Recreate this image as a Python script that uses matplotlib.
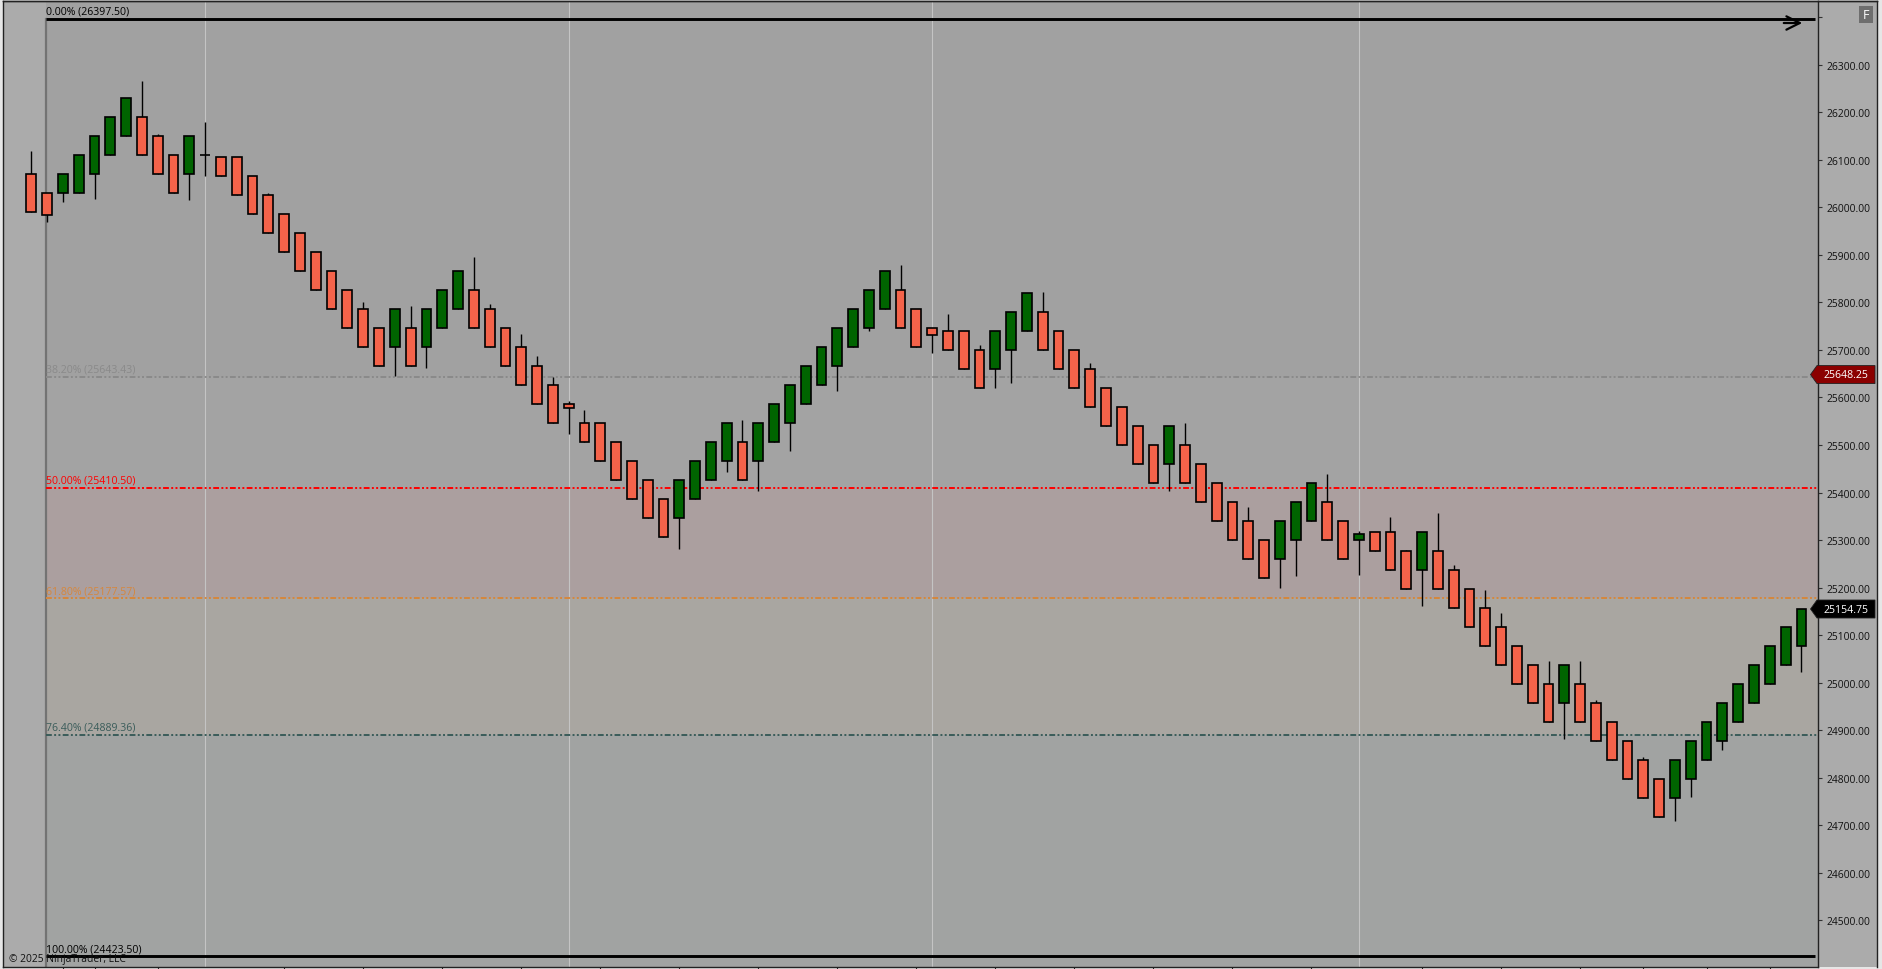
import matplotlib
matplotlib.use('Agg')
import matplotlib.pyplot as plt
from matplotlib.patches import Polygon, Rectangle
from matplotlib.lines import Line2D
import matplotlib.transforms as mtransforms

plt.rcParams['font.family'] = ['Open Sans', 'DejaVu Sans']

# ---------------- data ----------------
opens = [26070, 26030, 26030, 26030, 26070, 26110, 26150, 26190, 26150, 26110,
         26070, 26110, 26106, 26106, 26066, 26026, 25986, 25946, 25906, 25866,
         25826, 25786, 25746, 25706, 25746, 25706, 25746, 25786, 25826, 25786,
         25746, 25706, 25666, 25626, 25586, 25546, 25546, 25506, 25466, 25426,
         25386, 25346, 25386, 25426, 25466, 25506, 25466, 25506, 25546, 25586,
         25626, 25666, 25706, 25746, 25786, 25826, 25786, 25746, 25740, 25740,
         25700, 25660, 25700, 25740, 25780, 25740, 25700, 25660, 25620, 25580,
         25540, 25500, 25460, 25500, 25460, 25420, 25380, 25340, 25300, 25260,
         25300, 25340, 25380, 25340, 25300, 25316, 25316, 25276, 25236, 25276,
         25236, 25196, 25156, 25116, 25076, 25036, 24996, 24956, 24996, 24956,
         24916, 24876, 24836, 24796, 24756, 24796, 24836, 24876, 24916, 24956,
         24996, 25036, 25076]
closes = [25990, 25984, 26070, 26110, 26150, 26190, 26230, 26110, 26070, 26030,
          26150, 26110, 26066, 26026, 25986, 25946, 25906, 25866, 25826, 25786,
          25746, 25706, 25666, 25786, 25666, 25786, 25826, 25866, 25746, 25706,
          25666, 25626, 25586, 25546, 25578, 25506, 25466, 25426, 25386, 25346,
          25306, 25426, 25466, 25506, 25546, 25426, 25546, 25586, 25626, 25666,
          25706, 25746, 25786, 25826, 25866, 25746, 25706, 25731, 25700, 25660,
          25620, 25740, 25780, 25820, 25700, 25660, 25620, 25580, 25540, 25500,
          25460, 25420, 25540, 25420, 25380, 25340, 25300, 25260, 25220, 25340,
          25380, 25420, 25300, 25260, 25312, 25276, 25236, 25196, 25316, 25196,
          25156, 25116, 25076, 25036, 24996, 24956, 24916, 25036, 24916, 24876,
          24836, 24796, 24756, 24716, 24836, 24876, 24916, 24956, 24996, 25036,
          25076, 25116, 25154.75]
highs = [26119, 26030, 26070, 26110, 26150, 26190, 26230, 26266, 26155, 26110,
         26150, 26179, 26106, 26106, 26066, 26031, 25986, 25946, 25906, 25866,
         25826, 25800, 25746, 25786, 25792, 25786, 25826, 25866, 25895, 25797,
         25746, 25734, 25687, 25643, 25593, 25574, 25546, 25506, 25466, 25426,
         25386, 25426, 25466, 25506, 25546, 25553, 25546, 25586, 25626, 25666,
         25706, 25746, 25786, 25826, 25866, 25879, 25786, 25746, 25776, 25740,
         25710, 25740, 25780, 25820, 25822, 25740, 25700, 25673, 25620, 25580,
         25540, 25500, 25540, 25546, 25460, 25420, 25380, 25370, 25300, 25340,
         25380, 25420, 25439, 25340, 25318, 25316, 25348, 25280, 25316, 25356,
         25247, 25196, 25195, 25146, 25076, 25036, 25046, 25036, 25046, 24963,
         24916, 24876, 24843, 24796, 24836, 24876, 24916, 24956, 24996, 25036,
         25076, 25116, 25154.75]
lows = [25990, 25969, 26012, 26030, 26018, 26110, 26150, 26110, 26070, 26030,
        26016, 26067, 26066, 26026, 25986, 25946, 25906, 25866, 25826, 25786,
        25746, 25706, 25666, 25646, 25666, 25663, 25746, 25786, 25746, 25706,
        25666, 25626, 25586, 25546, 25523, 25506, 25466, 25426, 25386, 25346,
        25306, 25282, 25386, 25426, 25444, 25426, 25404, 25506, 25488, 25586,
        25626, 25614, 25706, 25741, 25786, 25746, 25706, 25694, 25700, 25660,
        25620, 25620, 25630, 25740, 25700, 25660, 25620, 25580, 25540, 25500,
        25460, 25420, 25404, 25420, 25380, 25340, 25300, 25260, 25220, 25198,
        25225, 25340, 25300, 25260, 25227, 25276, 25236, 25196, 25162, 25196,
        25156, 25116, 25076, 25036, 24996, 24956, 24916, 24882, 24916, 24876,
        24836, 24796, 24756, 24716, 24709, 24758, 24836, 24857, 24916, 24956,
        24996, 25036, 25023]

fib_start_price = 26397.50
fib_end_price = 24423.50
fib_ratios = [0.0, 0.382, 0.5, 0.618, 0.764, 1.0]
fib_anchor_bar = 1
session_start_bars = [11, 34, 57, 84]
price_ticks = list(range(24500, 26301, 100))
time_tick_bars = [2, 4, 8, 16, 21, 26, 31, 36, 41, 46, 51, 56, 61, 66, 71, 76, 81, 88, 93, 98, 102, 106, 110]
last_price = 25154.75
marker_price = 25648.25

# ---------------- styling ----------------
UP = '#006400'
DOWN = '#f4634a'
fib_line_colors = ['#000000', '#8a8a8a', '#ff0000', '#d6873c', '#3a5c5a', '#000000']
zone_colors = ['#a1a1a1', '#a3a3a3', '#ab9f9f', '#a9a6a1', '#a1a3a2']

W, H = 1883, 970
fig = plt.figure(figsize=(W / 100, H / 100), dpi=100, facecolor='#e6e6e6')
ax = fig.add_axes([3 / W, 2 / H, (1818 - 3) / W, (968 - 2) / H])
ax.set_facecolor('#ababab')

xmin, xmax = -1.79, 113.05
ymin, ymax = 24401.1, 26434.7
ax.set_xlim(xmin, xmax)
ax.set_ylim(ymin, ymax)

# right price-axis panel
fig.add_artist(Rectangle((1818 / W, 2 / H), (1877 - 1818) / W, 966 / H, transform=fig.transFigure,
                         facecolor='#ababab', edgecolor='none', zorder=0))
fig.add_artist(Line2D([1877 / W, 1877 / W], [2 / H, 968 / H], transform=fig.transFigure, color='#222222', lw=1))
fig.add_artist(Line2D([1818 / W, 1877 / W], [968 / H, 968 / H], transform=fig.transFigure, color='#222222', lw=1))
fig.add_artist(Line2D([3 / W, 1877 / W], [(H - 2) / H, (H - 2) / H], transform=fig.transFigure, color='#222222', lw=1))

# fibonacci zones
xa = fib_anchor_bar - 0.06
rng = fib_start_price - fib_end_price
levels = [fib_start_price - r * rng for r in fib_ratios]
ax.fill_between([xa, xmax], levels[0], ymax, color=zone_colors[0], lw=0, zorder=0.5)
for i in range(len(levels) - 1):
    ax.fill_between([xa, xmax], levels[i + 1], levels[i], color=zone_colors[i], lw=0, zorder=0.5)
ax.fill_between([xa, xmax], ymin, levels[-1], color=zone_colors[-1], lw=0, zorder=0.5)

# session separators
for b in session_start_bars:
    ax.axvline(b, color='#c4c4c4', lw=0.8, zorder=0.8)

# fib anchor vertical line
ax.plot([xa, xa], [ymin, levels[0]], color='#737373', lw=1.6, zorder=1)

# fib level lines and labels
for r, lvl, col in zip(fib_ratios, levels, fib_line_colors):
    if r in (0.0, 1.0):
        ax.plot([xa, xmax - 0.2], [lvl, lvl], color=col, lw=2.1, zorder=1.2, solid_capstyle='butt')
    else:
        ax.plot([xa, xmax], [lvl, lvl], color=col, lw=1.4, zorder=1.2, dashes=(3, 1.2, 1, 1.2, 1, 1.2))
    ax.annotate(f"{r * 100:.2f}% ({lvl:.2f})", xy=(xa, lvl), xytext=(0, 1.5), textcoords='offset points',
                ha='left', va='bottom', fontsize=7.6, color=col, zorder=3)

# candles
xs = list(range(len(opens)))
ax.vlines(xs, lows, highs, color='black', lw=1.0, zorder=2)
body_bottom = [min(o, c) for o, c in zip(opens, closes)]
body_height = [abs(c - o) for o, c in zip(opens, closes)]
body_colors = [UP if c > o else DOWN for o, c in zip(opens, closes)]
ax.bar(xs, body_height, bottom=body_bottom, width=0.62, color=body_colors,
       edgecolor='black', linewidth=1.2, zorder=2.5)

# axes / ticks
for s in ax.spines.values():
    s.set_color('#222222')
    s.set_linewidth(1)
ax.yaxis.tick_right()
ax.set_yticks(price_ticks)
ax.set_yticklabels([f"{p:.2f}" for p in price_ticks])
ax.set_yticks([26400], minor=True)
ax.tick_params(axis='y', which='both', direction='out', length=3, width=0.8, pad=3.2,
               labelsize=7.4, colors='#333333', labelcolor='#111111')
ax.set_xticks(time_tick_bars)
ax.set_xticklabels([])
ax.tick_params(axis='x', direction='out', length=2, width=0.8, colors='#222222')

# price markers on the right axis
trans = mtransforms.blended_transform_factory(fig.transFigure, ax.transData)
hh = 9 / 0.475
for price, col in [(marker_price, '#8b0000'), (last_price, '#000000')]:
    verts = [(1810.5 / W, price), (1817 / W, price + hh), (1875 / W, price + hh),
             (1875 / W, price - hh), (1817 / W, price - hh)]
    ax.add_patch(Polygon(verts, closed=True, transform=trans, facecolor=col,
                         edgecolor='#222222', lw=0.6, clip_on=False, zorder=5))
    ax.text(1846 / W, price, f"{price:.2f}", transform=trans, ha='center', va='center',
            fontsize=7.6, color='white', zorder=6, clip_on=False)

# "F" box
fig.add_artist(Rectangle((1859 / W, (H - 24) / H), 14 / W, 17 / H, transform=fig.transFigure,
                         facecolor='#6e6e6e', edgecolor='none', zorder=5))
fig.text(1866 / W, (H - 15.5) / H, 'F', color='white', fontsize=9, ha='center', va='center', zorder=6)

# arrow at the right end of the 0% line
ax.annotate('', xy=(1805, H - 24), xytext=(1781, H - 24), xycoords='figure pixels',
            textcoords='figure pixels',
            arrowprops=dict(arrowstyle='->', color='black', lw=1.6, mutation_scale=24), zorder=6)

# copyright
fig.text(9 / W, 8 / H, '\u00a9 2025 NinjaTrader, LLC', fontsize=7.4, color='#111111',
         ha='left', va='baseline', zorder=1)

fig.savefig('out.png', dpi=100, facecolor=fig.get_facecolor())
